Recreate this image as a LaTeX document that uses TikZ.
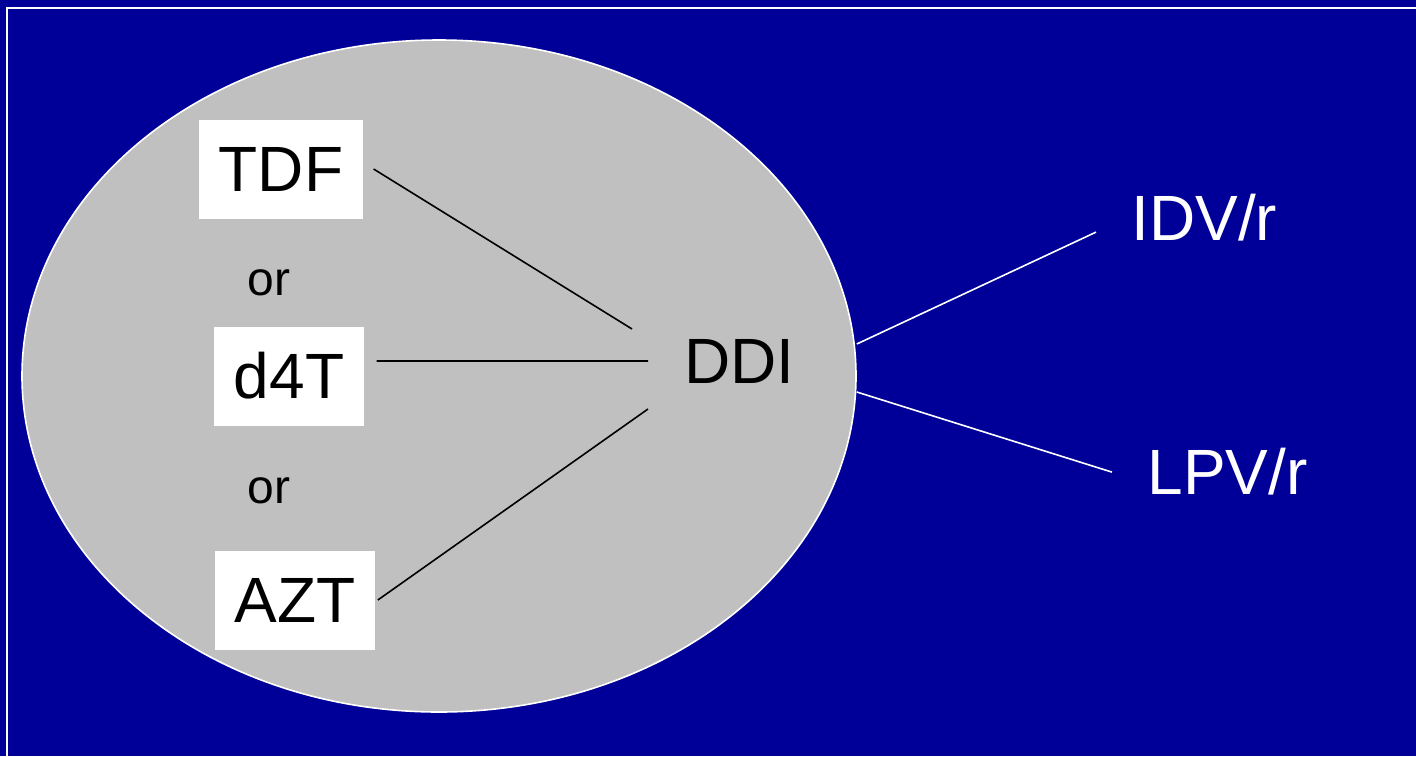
\documentclass[tikz,border=0pt]{standalone}
\usepackage{fontspec}
\setmainfont{Liberation Sans}
\usetikzlibrary{shapes.geometric,calc}
\definecolor{slideblue}{HTML}{000099}
\definecolor{poolgray}{HTML}{C0C0C0}

\begin{document}
\begin{tikzpicture}[x=0.5pt,y=-0.5pt,
                    drug/.style={fill=white,inner sep=0pt,inner xsep=10pt,
                                 minimum height=49.5pt,font=\fontsize{32}{38}\selectfont},
                    big/.style={inner sep=0pt,font=\fontsize{32}{38}\selectfont},
                    small/.style={inner sep=0pt,font=\fontsize{24}{29}\selectfont},
                    link/.style={line width=0.8pt}]
    % slide background and frame
    \fill[slideblue] (0,0) rectangle (1416,756);
    \useasboundingbox (0,0) rectangle (1416,756);
    \draw[white,line width=1pt] (7,768) -- (7,8) -- (1430,8);

    % NRTI backbone pool
    \node[ellipse,draw=white,fill=poolgray,line width=0.8pt,inner sep=0pt,
          minimum width=417pt,minimum height=336pt] (pool) at (439,376) {};

    \node[drug] (tdf) at (281,169) {TDF};
    \node[small] (or1) at (269,283) {or};
    \node[drug] (d4t) at (289,376) {d4T};
    \node[small] (or2) at (269,491) {or};
    \node[drug] (azt) at (295,600) {AZT};
    \node[big,anchor=base west] (ddi) at (684,383) {DDI};

    \node[big,white,anchor=base west] (idv) at (1131,240) {IDV/r};
    \node[big,white,anchor=base west] (lpv) at (1147,494) {LPV/r};

    \draw[link] ($(tdf.east)+(10,0)$) -- ($(ddi.west)+(-52,-32)$);
    \draw[link] ($(d4t.east)+(12,-15)$) -- ($(ddi.west)+(-36,0)$);
    \draw[link] ($(azt.east)+(2,0)$) -- ($(ddi.west)+(-36,48)$);

    \draw[link,white] ($(pool.east)+(0,-32)$) -- ($(idv.west)+(-35,15)$);
    \draw[link,white] ($(pool.east)+(0,16)$) -- ($(lpv.west)+(-35,1)$);
\end{tikzpicture}
\end{document}
